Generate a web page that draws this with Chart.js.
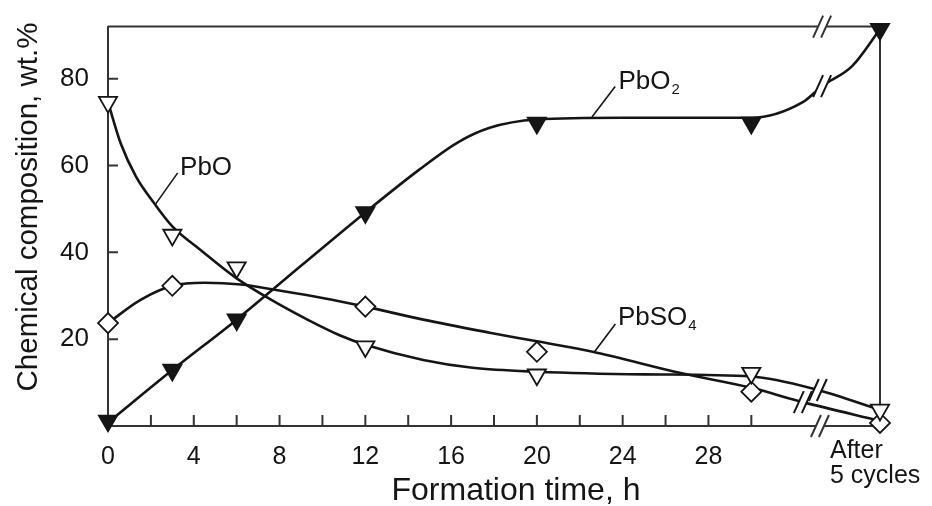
<!DOCTYPE html>
<html>
<head>
<meta charset="utf-8">
<script src="https://cdn.jsdelivr.net/npm/chart.js@4.4.1/dist/chart.umd.min.js"></script>
<style>
    html, body { margin: 0; padding: 0; background: #fff; }
    #wrap { width: 932px; height: 506px; }
</style>
</head>
<body>
<div id="wrap"><canvas id="chart" width="932" height="506"></canvas></div>
<script>
// measured points, "After 5 cycles" sits at x = 36 on the time axis
const pointTimes = [0, 3, 6, 12, 20, 30, 36];
const pbo2Values = [1.2, 12.9, 24.5, 49.2, 69.8, 69.8, 91.4];
const pboValues = [74.6, 44, 36.5, 18.3, 11.8, 12.2, 3.7];
const pbso4Times = [0, 3, 12, 20, 30, 36];
const pbso4Values = [23.7, 32.3, 27.5, 17.1, 7.9, 0.7];

// smoothed curves
const pbo2CurveX = [0, 3, 6, 9, 12, 14.5, 16.3, 17.8, 20, 24, 30, 32.4, 33.3, 34.7, 36];
const pbo2CurveY = [0.8, 12.9, 24.5, 36.9, 49.2, 59, 65.3, 68.7, 70.6, 71, 71, 74.6, 78.3, 82.9, 91.4];
const pboCurveX = [0, 0.6, 1.3, 2.2, 3, 4.3, 6, 7.7, 9.3, 10.8, 12, 14.7, 17, 20, 25, 30, 33.1, 36];
const pboCurveY = [74.6, 65, 57.5, 51, 46, 40.6, 34, 28.8, 24.5, 20.9, 18.7, 15.2, 13.4, 12.5, 11.9, 11.4, 8.3, 3.7];
const pbso4CurveX = [0, 1.5, 3, 4.5, 6.2, 8, 10, 12, 14.7, 17.8, 20, 22.6, 26.7, 30, 32.4, 36];
const pbso4CurveY = [23.7, 29, 32.3, 33, 32.6, 31.2, 29.5, 27.5, 24.5, 21.5, 19.5, 17.1, 12.2, 8.8, 5.5, 1.2];

const xTickValues = [0, 2, 4, 6, 8, 10, 12, 14, 16, 18, 20, 22, 24, 26, 28, 30];
const xLabelValues = [0, 4, 8, 12, 16, 20, 24, 28];
const yTickValues = [20, 40, 60, 80];
const afterCyclesLabel = ['After', '5 cycles'];
const xTitle = 'Formation time, h';
const yTitle = 'Chemical composition, wt.%';

const ink = '#151515';
const frameColor = '#333';
const fontFamily = '"Liberation Sans", Arial, sans-serif';

document.addEventListener('DOMContentLoaded', function() {
    drawChart();
});

function toXY(xs, ys) {
    return xs.map((x, i) => ({ x: x, y: ys[i] }));
}

function curveDataset(xs, ys) {
    return {
        data: toXY(xs, ys),
        showLine: true,
        pointRadius: 0,
        borderColor: ink,
        borderWidth: 2.6,
        cubicInterpolationMode: 'monotone',
        fill: false,
        clip: false,
        order: 2
    };
}

function markerDataset(xs, ys, style, rotation, fillColor) {
    return {
        data: toXY(xs, ys),
        showLine: false,
        pointStyle: style,
        rotation: rotation,
        pointRadius: style === 'rectRot' ? 10 : 10.5,
        pointBackgroundColor: fillColor,
        pointBorderColor: ink,
        pointBorderWidth: 1.8,
        clip: false,
        order: 1
    };
}

// "//" break marks: white gap then two slashes
function drawBreak(ctx, px, py, color) {
    ctx.save();
    ctx.fillStyle = '#fff';
    ctx.beginPath();
    ctx.moveTo(px - 8, py + 7);
    ctx.lineTo(px + 0, py + 7);
    ctx.lineTo(px + 8, py - 7);
    ctx.lineTo(px + 0, py - 7);
    ctx.closePath();
    ctx.fill();
    ctx.strokeStyle = color;
    ctx.lineWidth = 2;
    ctx.beginPath();
    [-4, 4].forEach(off => {
        ctx.moveTo(px + off - 5, py + 11);
        ctx.lineTo(px + off + 5, py - 11);
    });
    ctx.stroke();
    ctx.restore();
}

function drawCurveLabel(chart, text, sub, at, from, to) {
    const { ctx, scales } = chart;
    const tx = scales.x.getPixelForValue(at[0]);
    const ty = scales.y.getPixelForValue(at[1]);
    ctx.save();
    ctx.fillStyle = ink;
    ctx.textAlign = 'left';
    ctx.textBaseline = 'alphabetic';
    ctx.font = '26px ' + fontFamily;
    ctx.fillText(text, tx, ty);
    if (sub) {
        const w = ctx.measureText(text).width;
        ctx.font = '15px ' + fontFamily;
        ctx.fillText(sub, tx + w + 1, ty + 5);
    }
    ctx.strokeStyle = ink;
    ctx.lineWidth = 1.6;
    ctx.beginPath();
    ctx.moveTo(scales.x.getPixelForValue(from[0]), scales.y.getPixelForValue(from[1]));
    ctx.lineTo(scales.x.getPixelForValue(to[0]), scales.y.getPixelForValue(to[1]));
    ctx.stroke();
    ctx.restore();
}

const framePlugin = {
    id: 'frame',
    beforeDatasetsDraw(chart) {
        const { ctx, chartArea: a, scales } = chart;
        ctx.save();
        ctx.strokeStyle = frameColor;
        ctx.lineWidth = 2;
        ctx.beginPath();
        ctx.moveTo(a.left, a.top);
        ctx.lineTo(a.right, a.top);
        ctx.lineTo(a.right, a.bottom);
        ctx.stroke();

        // ticks point into the plot
        ctx.beginPath();
        xTickValues.forEach(v => {
            if (v === 0) return;
            const px = scales.x.getPixelForValue(v);
            ctx.moveTo(px, a.bottom);
            ctx.lineTo(px, a.bottom - 11);
        });
        yTickValues.forEach(v => {
            const py = scales.y.getPixelForValue(v);
            ctx.moveTo(a.left, py);
            ctx.lineTo(a.left + 10, py);
        });
        ctx.stroke();
        ctx.restore();
    },
    afterDatasetsDraw(chart) {
        const { ctx, chartArea: a, scales } = chart;
        const px = v => scales.x.getPixelForValue(v);
        const py = v => scales.y.getPixelForValue(v);

        drawBreak(ctx, px(33.3), a.top, frameColor);
        drawBreak(ctx, px(33.2), a.bottom, frameColor);
        drawBreak(ctx, px(33.3), py(78.3), ink);
        drawBreak(ctx, px(33.1), py(8.3), ink);
        drawBreak(ctx, px(32.4), py(5.5), ink);

        drawCurveLabel(chart, 'PbO', '', [3.36, 57.8], [3.25, 58.3], [2.2, 51]);
        drawCurveLabel(chart, 'PbO', '2', [23.8, 77.6], [23.65, 78.2], [22.57, 71.2]);
        drawCurveLabel(chart, 'PbSO', '4', [23.78, 23.3], [23.66, 23.5], [22.67, 17]);

        ctx.save();
        ctx.fillStyle = ink;
        ctx.font = '25px ' + fontFamily;
        ctx.textAlign = 'left';
        ctx.textBaseline = 'alphabetic';
        ctx.fillText(afterCyclesLabel[0], px(36) - 50, 458);
        ctx.fillText(afterCyclesLabel[1], px(36) - 50, 483);

        ctx.font = '32px ' + fontFamily;
        ctx.textAlign = 'center';
        ctx.fillText(xTitle, 516, 500);

        ctx.font = '29.5px ' + fontFamily;
        ctx.translate(37, 207);
        ctx.rotate(-Math.PI / 2);
        ctx.fillText(yTitle, 0, 0);
        ctx.restore();
    }
};

function drawChart() {
    const canvas = document.getElementById('chart');

    new Chart(canvas, {
        type: 'scatter',
        data: {
            datasets: [
                curveDataset(pbo2CurveX, pbo2CurveY),
                curveDataset(pboCurveX, pboCurveY),
                curveDataset(pbso4CurveX, pbso4CurveY),
                markerDataset(pointTimes, pbo2Values, 'triangle', 180, ink),
                markerDataset(pointTimes, pboValues, 'triangle', 180, '#fff'),
                markerDataset(pbso4Times, pbso4Values, 'rectRot', 0, '#fff')
            ]
        },
        options: {
            responsive: false,
            animation: false,
            devicePixelRatio: 1,
            events: [],
            layout: { padding: { top: 26, right: 52, left: 0, bottom: 0 } },
            plugins: {
                legend: { display: false },
                tooltip: { enabled: false }
            },
            scales: {
                x: {
                    type: 'linear',
                    min: 0,
                    max: 36,
                    afterBuildTicks: axis => {
                        axis.ticks = xTickValues.map(v => ({ value: v }));
                    },
                    afterFit: axis => { axis.height = 80; },
                    grid: { display: false },
                    border: { display: true, color: frameColor, width: 2 },
                    ticks: {
                        autoSkip: false,
                        maxRotation: 0,
                        padding: 8,
                        color: ink,
                        font: { family: fontFamily, size: 25 },
                        callback: v => xLabelValues.includes(v) ? String(v) : ''
                    }
                },
                y: {
                    min: 0,
                    max: 92,
                    afterBuildTicks: axis => {
                        axis.ticks = yTickValues.map(v => ({ value: v }));
                    },
                    afterFit: axis => { axis.width = 108; },
                    grid: { display: false },
                    border: { display: true, color: frameColor, width: 2 },
                    ticks: {
                        padding: 11,
                        color: ink,
                        font: { family: fontFamily, size: 26 }
                    }
                }
            }
        },
        plugins: [framePlugin]
    });
}
</script>
</body>
</html>
